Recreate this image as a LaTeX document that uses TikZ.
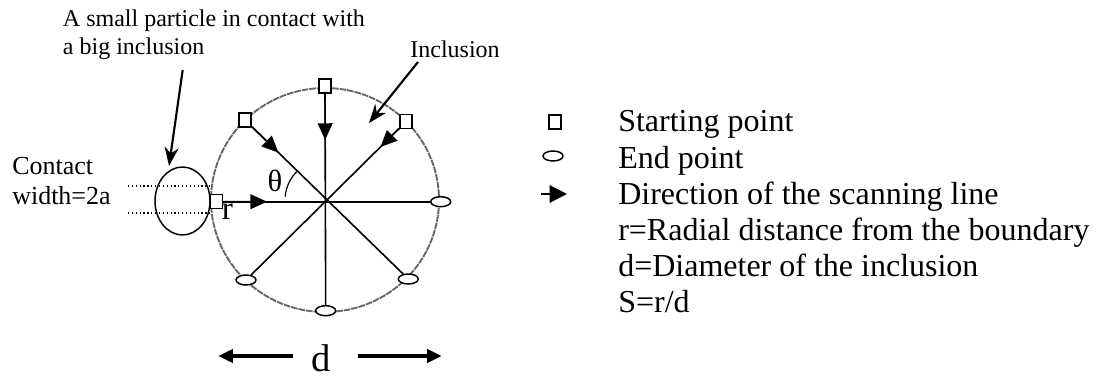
\documentclass[tikz,border=0pt]{standalone}
\usepackage{fontspec}
\setmainfont{Liberation Serif}
\usetikzlibrary{arrows.meta,calc,shapes.geometric}
\begin{document}
\begin{tikzpicture}[x=0.75pt,y=-0.75pt,
  startbox/.style={draw=black,fill=white,line width=1.1pt,minimum width=9pt,minimum height=10.5pt,inner sep=0pt},
  endmark/.style={ellipse,draw=black,fill=white,line width=1.1pt,minimum width=15pt,minimum height=7.5pt,inner sep=0pt},
  scanline/.style={line width=1.2pt,draw=black},
  scanhead/.style={line width=1.2pt,-{Triangle[length=12.5pt,width=11pt]}},
  pointer/.style={line width=1.6pt,-{Stealth[length=14pt,width=10.5pt]}},
  dimarrow/.style={line width=2.5pt,-{Triangle[length=11pt,width=10pt]}},
  legendtext/.style={anchor=base west,inner sep=0pt,font=\fontsize{24pt}{28pt}\selectfont},
  smalltext/.style={anchor=base west,inner sep=0pt,font=\fontsize{18pt}{21pt}\selectfont},
  contacttext/.style={anchor=base west,inner sep=0pt,font=\fontsize{19.5pt}{23pt}\selectfont},
  dotline/.style={dotted,line width=0.9pt},
]
\useasboundingbox (0,0) rectangle (1096,378);

% inclusion circle
\coordinate (c) at (325,200);
\draw[black!60,line width=1.4pt,dash pattern=on 5pt off 0.7pt] (c) ellipse [x radius=114, y radius=112];

% small particle
\node[ellipse,draw=black,line width=1.1pt,minimum width=41.25pt,minimum height=51pt,inner sep=0pt] (particle) at (182.5,201) {};
\coordinate (dA1) at (128,186);
\coordinate (dA2) at (210,186);
\coordinate (dB1) at (128,213);
\coordinate (dB2) at (210,213);
\draw[dotline] (dA1) -- (dA2);
\draw[dotline] (dB1) -- (dB2);

% start points
\node[startbox] (sL) at (216.7,201.7) {};
\node[startbox] (sT) at (325,86) {};
\node[startbox] (sUL) at (245,120) {};
\node[startbox] (sUR) at (406,121.7) {};
% end points
\node[endmark] (eR) at (440.7,201.7) {};
\node[endmark] (eB) at (325.7,310.7) {};
\node[endmark] (eLR) at (408.3,279) {};
\node[endmark] (eLL) at (246,280) {};

% scanning lines
\draw[scanline] (sL) -- (eR);
\draw[scanline] (sT) -- (eB);
\draw[scanline] (sUL) -- (eLR);
\draw[scanline] (sUR) -- (eLL);
\draw[scanhead] (sL) -- ($(sL)!0.225!(eR)$);
\draw[scanhead] (sT) -- ($(sT)!0.24!(eB)$);
\draw[scanhead] (sUL) -- ($(sUL)!0.205!(eLR)$);
\draw[scanhead] (sUR) -- ($(sUR)!0.16!(eLL)$);

% angle
\draw[line width=0.9pt] ($(c)+(185:40)$) arc[start angle=185, end angle=225, radius=40];
\node[inner sep=0pt,font=\fontsize{23pt}{26pt}\selectfont] (theta) at (275,181) {θ};
\node[inner sep=0pt,font=\fontsize{25pt}{28pt}\selectfont] (rlabel) at (227.5,212) {r};

% labels with pointers
\node[smalltext] (plabelA) at (62.7,26.7) {A small particle in contact with};
\node[smalltext] (plabelB) at (62.7,55) {a big inclusion};
\coordinate (ptail) at (182.7,70);
\coordinate (ptip) at (169,166);
\draw[pointer] (ptail) -- (ptip);

\node[smalltext,anchor=base east] (incl) at (500,58) {Inclusion};
\coordinate (itail) at (418,62);
\coordinate (itip) at (369,123);
\draw[pointer] (itail) -- (itip);

\node[contacttext] (contactA) at (12,174) {Contact};
\node[contacttext] (contactB) at (12,204) {width=2a};

% diameter
\node[inner sep=0pt,anchor=base,font=\fontsize{29pt}{32pt}\selectfont] (dlabel) at (320.7,371.7) {d};
\coordinate (dl1) at (293.3,356);
\coordinate (dl2) at (218.3,356);
\coordinate (dr1) at (358.3,356);
\coordinate (dr2) at (441.7,356);
\draw[dimarrow] (dl1) -- (dl2);
\draw[dimarrow] (dr1) -- (dr2);

% legend
\node[startbox] (legstart) at (555,122) {};
\node[endmark] (legend) at (553,156) {};
\coordinate (la1) at (541,194);
\coordinate (la2) at (567,194);
\draw[line width=1.6pt,-{Triangle[length=13pt,width=13pt]}] (la1) -- (la2);
\node[legendtext] (t1) at (618,132) {Starting point};
\node[legendtext] (t2) at (618,168) {End point};
\node[legendtext] (t3) at (618,204) {Direction of the scanning line};
\node[legendtext] (t4) at (618,240) {r=Radial distance from the boundary};
\node[legendtext] (t5) at (618,276) {d=Diameter of the inclusion};
\node[legendtext] (t6) at (618,312) {S=r/d};
\end{tikzpicture}
\end{document}
